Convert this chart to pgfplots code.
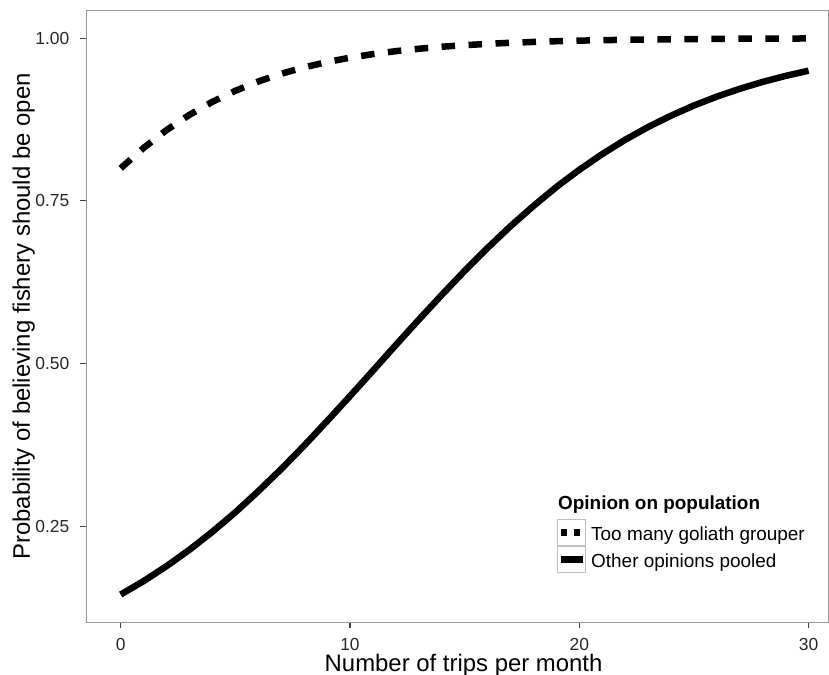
\documentclass[border=0pt]{standalone}
\usepackage{pgfplots}
\pgfplotsset{compat=1.18}
\usepackage{fontspec}
\setmainfont{Liberation Sans}
\begin{document}
\begin{tikzpicture}
\begin{axis}[
  scale only axis,
  width=742.7bp, height=611.6bp,
  xmin=-1.5, xmax=30.89,
  ymin=0.1023, ymax=1.0422,
  xtick={0,10,20,30},
  ytick={0.25,0.5,0.75,1},
  yticklabels={0.25,0.50,0.75,1.00},
  tick pos=left,
  tick align=outside,
  major tick length=6bp,
  tick style={draw=black!75, line width=1.1bp},
  axis line style={draw=black!40, line width=1.1bp},
  /pgf/number format/assume math mode=true,
  tick label style={font=\fontsize{17.5}{20}\selectfont, text=black!85},
  yticklabel style={xshift=-7.5bp},
  xticklabel style={yshift=-6.5bp},
  xlabel={Number of trips per month},
  ylabel={Probability of believing fishery should be open},
  xlabel style={at={(axis description cs:0.508,-0.0805)}, anchor=base, inner sep=0pt, font=\fontsize{24}{28}\selectfont},
  ylabel style={at={(axis description cs:-0.0758,0.5)}, anchor=base, inner sep=0pt, font=\fontsize{24}{28}\selectfont},
  legend style={at={(axis description cs:0.6338,0.1689)}, anchor=north west, draw=none, fill=none,
    inner sep=0pt, column sep=5bp, row sep=0pt,
    nodes={inner sep=0pt, anchor=base west, font=\fontsize{19}{22}\selectfont}},
]
\addplot[black, line width=6.5bp, dash pattern=on 13.5bp off 13.5bp,
  legend image code/.code={
    \draw[black!25, line width=1bp, solid] (0bp,-5bp) rectangle (28bp,21bp);
    \draw[black, line width=6.5bp, dash pattern=on 6.5bp off 6.5bp] (3bp,8bp) -- (25bp,8bp);
  }] coordinates {
(0,0.8000) (1,0.8313) (2,0.8587) (3,0.8822) (4,0.9022) (5,0.9191) (6,0.9334)
(7,0.9453) (8,0.9551) (9,0.9633) (10,0.9700) (11,0.9755) (12,0.9800) (13,0.9837)
(14,0.9868) (15,0.9892) (16,0.9912) (17,0.9929) (18,0.9942) (19,0.9953) (20,0.9962)
(22,0.9975) (24,0.9983) (26,0.9989) (28,0.9993) (30,0.9995)
};
\addlegendentry{Too many goliath grouper}
\addplot[black, line width=6.5bp,
  legend image code/.code={
    \draw[black!25, line width=1bp, solid] (0bp,-5bp) rectangle (28bp,21bp);
    \draw[black, line width=6.5bp] (3bp,8bp) -- (25bp,8bp);
  }] coordinates {
(0,0.1450) (1,0.1656) (2,0.1886) (3,0.2138) (4,0.2414) (5,0.2713) (6,0.3037)
(7,0.3378) (8,0.3738) (9,0.4115) (10,0.4499) (11,0.4890) (12,0.5285) (13,0.5673)
(14,0.6054) (15,0.6424) (16,0.6776) (17,0.7110) (18,0.7421) (19,0.7712) (20,0.7977)
(21,0.8218) (22,0.8438) (23,0.8634) (24,0.8809) (25,0.8965) (26,0.9102) (27,0.9222)
(28,0.9328) (29,0.9420) (30,0.9500)
};
\addlegendentry{Other opinions pooled}
\node[anchor=base west, inner sep=0pt, font=\fontsize{19}{22}\selectfont\bfseries] at (axis description cs:0.6351,0.1848) {Opinion on population};
\end{axis}
\pgfresetboundingbox
\useasboundingbox (-86.3bp,-52.7bp) rectangle (742.7bp,622.3bp);
\end{tikzpicture}
\end{document}
